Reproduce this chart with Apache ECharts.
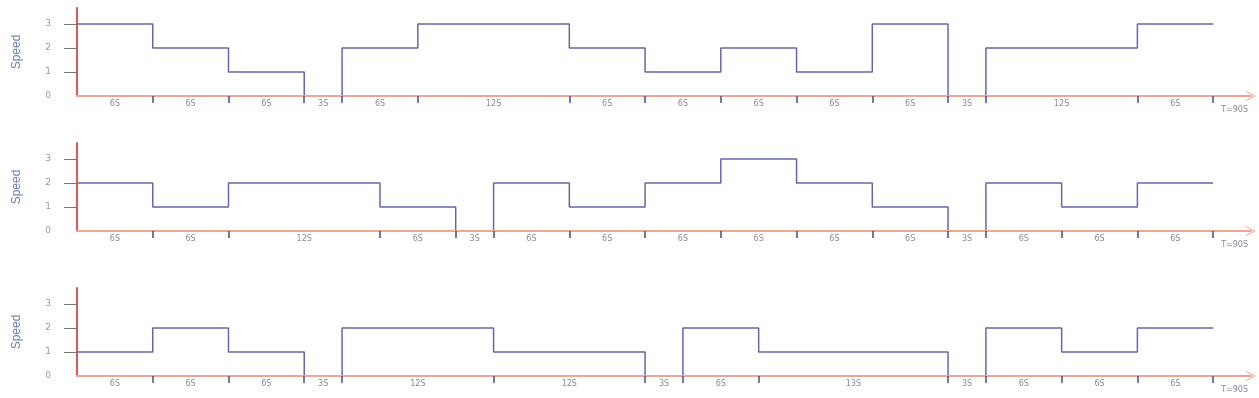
<!DOCTYPE html>
<html><head><meta charset="utf-8">
<script src="https://cdn.jsdelivr.net/npm/echarts@6/dist/echarts.min.js"></script>
<style>html,body{margin:0;padding:0;background:#fff}#c{width:1259px;height:398px}</style>
</head><body><div id="c"></div>
<script>
const durations1 = [6,6,6,3,6,12,6,6,6,6,6,3,12,6];
const speeds1 = [3,2,1,0,2,3,2,1,2,1,3,0,2,3];
const labels1 = ['6S','6S','6S','3S','6S','12S','6S','6S','6S','6S','6S','3S','12S','6S'];
const durations2 = [6,6,12,6,3,6,6,6,6,6,6,3,6,6,6];
const speeds2 = [2,1,2,1,0,2,1,2,3,2,1,0,2,1,2];
const labels2 = ['6S','6S','12S','6S','3S','6S','6S','6S','6S','6S','6S','3S','6S','6S','6S'];
const durations3 = [6,6,6,3,12,12,3,6,15,3,6,6,6];
const speeds3 = [1,2,1,0,2,1,0,2,1,0,2,1,2];
const labels3 = ['6S','6S','6S','3S','12S','12S','3S','6S','13S','3S','6S','6S','6S'];
const totalLabel = 'T=90S';
const yTicks = [0,1,2,3];
const yName = 'Speed';

const panels = [
  {d: durations1, s: speeds1, l: labels1},
  {d: durations2, s: speeds2, l: labels2},
  {d: durations3, s: speeds3, l: labels3}
];
const tops = [8, 143, 288];
const grids = [], xAxes = [], yAxes = [], series = [];
panels.forEach((p, i) => {
  const starts = [], mids = [];
  let t = 0;
  p.d.forEach(d => { starts.push(t); mids.push(t + d / 2); t += d; });
  const bounds = starts.slice(1).concat([t]);
  const data = starts.map((st, k) => [st, p.s[k]]);
  data.push([t, p.s[p.s.length - 1]]);
  grids.push({left: 77, right: 8, top: tops[i], height: 88});
  xAxes.push({
    type: 'value', gridIndex: i, min: 0, max: 93, zlevel: 1, z: 5,
    splitLine: {show: false},
    axisLine: {show: true, onZero: false, lineStyle: {color: '#f2a494', width: 2.2},
      symbol: ['none', 'path://M0,10 L5,0 L10,10 L9,10 L5,2 L1,10 Z'], symbolSize: [10, 14]},
    axisTick: {show: true, customValues: bounds, length: 7, lineStyle: {color: '#4a4a80', width: 1.5}},
    axisLabel: {show: true, customValues: mids, margin: 4, fontSize: 8, color: '#8a8a9a',
      fontFamily: 'DejaVu Sans',
      formatter: v => { const k = mids.findIndex(m => Math.abs(m - v) < 1e-6); return k >= 0 ? p.l[k] : ''; }},
    name: totalLabel, nameLocation: 'end', nameGap: -3,
    nameTextStyle: {fontSize: 8, color: '#8a8a9a', align: 'right', verticalAlign: 'top', padding: [10, 0, 0, 0], fontFamily: 'DejaVu Sans'}
  });
  yAxes.push({
    type: 'value', gridIndex: i, min: 0, max: 3.67, zlevel: 1, z: 5,
    splitLine: {show: false},
    axisLine: {show: true, lineStyle: {color: '#e05858', width: 2}},
    axisTick: {show: true, customValues: [1, 2, 3], length: 13, lineStyle: {color: '#777', width: 1}},
    axisLabel: {customValues: yTicks, margin: 26, fontSize: 9, color: '#999', fontFamily: 'DejaVu Sans'},
    name: yName, nameLocation: 'middle', nameGap: 54,
    nameTextStyle: {fontSize: 12, color: '#6a7eb0', fontFamily: 'Liberation Sans'}
  });
  series.push({
    type: 'line', xAxisIndex: i, yAxisIndex: i, step: 'end', data: data,
    symbol: 'none', lineStyle: {color: '#6666aa', width: 1.5}, z: 1, zlevel: 0
  });
});
const chart = echarts.init(document.getElementById('c'));
chart.setOption({animation: false, grid: grids, xAxis: xAxes, yAxis: yAxes, series: series});
</script></body></html>
